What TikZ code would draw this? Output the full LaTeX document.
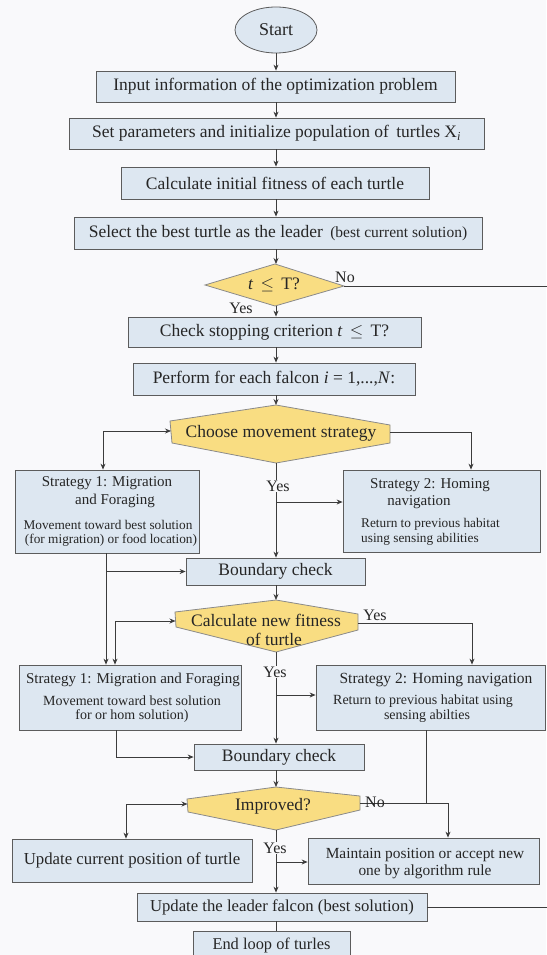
\documentclass[tikz,border=0pt]{standalone}
\usepackage{fontspec}
\setmainfont{Liberation Serif}
\usetikzlibrary{arrows.meta,shapes.geometric}

\definecolor{paper}{HTML}{F9F9FB}
\definecolor{boxfill}{HTML}{DDE7F1}
\definecolor{boxline}{HTML}{5C5C5C}
\definecolor{decfill}{HTML}{F9DD82}
\definecolor{decline}{HTML}{8A8A8A}
\definecolor{inkc}{HTML}{262626}
\definecolor{wire}{HTML}{3C3C3C}

\tikzset{
  box/.style={draw=boxline, fill=boxfill, line width=0.8pt, inner sep=0pt},
  main/.style={font=\fontsize{17.5}{20}\selectfont, text=inkc},
  tA/.style={font=\fontsize{15}{17}\selectfont, text=inkc, inner sep=0pt},
  tB/.style={font=\fontsize{13.3}{15}\selectfont, text=inkc, inner sep=0pt},
  tC/.style={font=\fontsize{14}{16}\selectfont, text=inkc, inner sep=0pt},
  wireline/.style={draw=wire, line width=0.8pt},
  arr/.style={wireline, -{Stealth[length=6pt,width=5pt]}},
  biarr/.style={wireline, {Stealth[length=6pt,width=5pt]}-{Stealth[length=6pt,width=5pt]}},
  dec/.style={fill=decfill, draw=decline, line width=0.8pt},
  lbl/.style={font=\fontsize{16}{18}\selectfont, text=inkc, inner sep=0.5pt},
  masklbl/.style={lbl, fill=paper},
}

\begin{document}
\begin{tikzpicture}[x=1pt,y=-1pt]
\useasboundingbox (0,0) rectangle (546,955);
\fill[paper] (0,0) rectangle (546,955);

% main column axis and branch columns
\coordinate (ax) at (276,0);
\coordinate (xA) at (103,0);
\coordinate (xB) at (471,0);
\coordinate (xC) at (106,0);
\coordinate (xD) at (115,0);
\coordinate (xE) at (472,0);
\coordinate (xF) at (116,0);
\coordinate (xG) at (426,0);
\coordinate (xH) at (126,0);
\coordinate (xI) at (448,0);
\coordinate (redge) at (548,0);

% start and initial steps
\node[box, ellipse, minimum width=82pt, minimum height=46pt,
      font=\fontsize{18}{20}\selectfont, text=inkc] (st) at (276,30) {Start};
\node[box, main, minimum width=359pt, minimum height=31pt] (b1) at (275.5,86.5)
  {Input information of the optimization problem};
\node[box, main, minimum width=415pt, minimum height=31pt] (b2) at (276.5,133.5)
  {Set parameters and initialize population of\, turtles X\textsubscript{\itshape i}};
\node[box, main, minimum width=308pt, minimum height=32pt] (b3) at (275,183)
  {Calculate initial fitness of each turtle};
\node[box, main, minimum width=408pt, minimum height=32pt] (b4) at (278,233)
  {Select the best turtle as the leader\, {\fontsize{15.5}{18}\selectfont(best current solution)}};

% loop test
\coordinate (d1t) at (275,264);
\coordinate (d1r) at (344,286);
\coordinate (d1b) at (275,306);
\coordinate (d1l) at (205,285);
\filldraw[dec] (d1t) -- (d1r) -- (d1b) -- (d1l) -- cycle;
\node[main] (d1) at (274,285) {\textit{t}\, $\leq$\, T?};

\node[box, main, minimum width=293pt, minimum height=30pt] (b5) at (274.5,332)
  {Check stopping criterion \textit{t}\, $\leq$\, T?};
\node[box, main, minimum width=282pt, minimum height=32pt] (b6) at (274,379)
  {Perform for each falcon \textit{i} = 1,...,\textit{N}:};

% choose movement strategy
\coordinate (cht) at (276,405);
\coordinate (chur) at (390,425);
\coordinate (chR) at (390,432);
\coordinate (chlr) at (390,443);
\coordinate (chb) at (276,463);
\coordinate (chll) at (172,443);
\coordinate (chL) at (171,431);
\coordinate (chul) at (170,421);
\filldraw[dec] (cht) -- (chur) -- (chlr) -- (chb) -- (chll) -- (chul) -- cycle;
\node[main] (chtx) at (281,433) {Choose movement strategy};

% first pair of strategies
\node[box, minimum width=184pt, minimum height=83pt] (sA) at (107,511.5) {};
\node[tA] (sAa) at (107,483) {Strategy 1: Migration};
\node[tA] (sAb) at (115,501) {and Foraging};
\node[tB] (sAc) at (108,525) {Movement toward best solution};
\node[tB] (sAd) at (111,540) {(for migration) or food location)};

\node[box, minimum width=197pt, minimum height=82pt] (s2A) at (441.5,511) {};
\node[tA] (s2Aa) at (430,485) {Strategy 2: Homing};
\node[tA] (s2Ab) at (419,502) {navigation};
\node[tB, anchor=west] (s2Ac) at (361,524) {Return to previous habitat};
\node[tB, anchor=west] (s2Ad) at (361,539) {using sensing abilities};

\node[box, main, minimum width=179pt, minimum height=27pt] (bc1) at (275.5,571.5) {Boundary check};

% new fitness
\coordinate (cat) at (276,600);
\coordinate (caur) at (358,614);
\coordinate (caR) at (358,623);
\coordinate (calr) at (358,630);
\coordinate (cab) at (276,652);
\coordinate (call) at (176,627);
\coordinate (caL) at (175.5,621);
\coordinate (caul) at (175,612);
\filldraw[dec] (cat) -- (caur) -- (calr) -- (cab) -- (call) -- (caul) -- cycle;
\node[main, align=center, font=\fontsize{17.5}{19.5}\selectfont] (catx) at (266,630)
  {Calculate new fitness\\\hspace*{16pt}of turtle};

% second pair of strategies
\node[box, minimum width=222pt, minimum height=65pt] (sB) at (130,697.5) {};
\node[tA] (sBa) at (133,680) {Strategy 1: Migration and Foraging};
\node[tC] (sBb) at (132,701) {Movement toward best solution};
\node[tC] (sBc) at (132,716) {for or hom solution)};

\node[box, minimum width=229pt, minimum height=65pt] (s2B) at (430.5,697.5) {};
\node[tA, font=\fontsize{15.5}{17}\selectfont] (s2Ba) at (436,680) {Strategy 2: Homing navigation};
\node[tC] (s2Bb) at (423,701) {Return to previous habitat using};
\node[tC] (s2Bc) at (427,716) {sensing abilties};

\node[box, main, minimum width=170pt, minimum height=26pt] (bc2) at (279,757) {Boundary check};

% improvement test
\coordinate (imt) at (276,787);
\coordinate (imur) at (360,796);
\coordinate (imR) at (360,803);
\coordinate (imlr) at (360,810);
\coordinate (imb) at (276,830);
\coordinate (imll) at (188,812);
\coordinate (imL) at (187.5,804);
\coordinate (imul) at (187,799);
\filldraw[dec] (imt) -- (imur) -- (imlr) -- (imb) -- (imll) -- (imul) -- cycle;
\node[main] (imtx) at (273,806) {Improved?};

\node[box, main, font=\fontsize{16.8}{19}\selectfont, minimum width=240pt, minimum height=43pt] (up) at (132,860.5)
  {Update current position of turtle};
\node[box, minimum width=231pt, minimum height=46pt] (mt) at (423.5,861) {};
\node[align=center, font=\fontsize{15.4}{17}\selectfont, text=inkc, inner sep=0pt] (mttx) at (425,864)
  {Maintain position or accept new\\one by algorithm rule};

\node[box, main, font=\fontsize{16.7}{19}\selectfont, minimum width=290pt, minimum height=28pt] (ul) at (282,907)
  {Update the leader falcon (best solution)};
\node[box, main, font=\fontsize{16.4}{19}\selectfont, minimum width=157pt, minimum height=28pt] (en) at (271.5,945)
  {End loop of turles};

% ---- connectors ----
\draw[arr] (st.south) -- (b1.north -| ax);
\draw[arr] (b1.south -| ax) -- (b2.north -| ax);
\draw[arr] (b2.south -| ax) -- (b3.north -| ax);
\draw[arr] (b3.south -| ax) -- (b4.north -| ax);
\draw[arr] (b4.south -| ax) -- (d1t -| ax);
\draw[arr] (d1b -| ax) -- (b5.north -| ax);
\draw[wireline] (d1r) -- (d1r -| redge);
\node[lbl] (no1) at (345,277) {No};
\node[lbl] (yes1) at (241,308) {Yes};
\draw[arr] (b5.south -| ax) -- (b6.north -| ax);
\draw[arr] (b6.south -| ax) -- (cht);

\draw[biarr] (chL) -| (sA.north -| xA);
\draw[arr] (chR) -| (s2A.north -| xB);
\draw[arr] (chb) -- (bc1.north -| ax);
\coordinate (yb1) at (276,502);
\draw[arr] (yb1) -- (yb1 -| s2A.west);
\node[masklbl] (yes2) at (278,486) {Yes};

\draw[arr] (sA.south -| xC) -- (sB.north -| xC);
\draw[arr] (bc1.west -| xC) -- (bc1.west);
\draw[arr] (bc1.south -| ax) -- (cat);

\draw[biarr] (caL) -| (sB.north -| xD);
\draw[arr] (caR) -| (s2B.north -| xE);
\node[lbl] (yes3) at (375,615) {Yes};
\draw[arr] (cab) -- (bc2.north -| ax);
\coordinate (yb2) at (276,695);
\draw[arr] (yb2) -- (yb2 -| s2B.west);
\node[masklbl] (yes4) at (275,672) {Yes};

\draw[arr] (sB.south -| xF) |- (bc2.west);
\draw[arr] (bc2.south -| ax) -- (imt);

\draw[wireline] (s2B.south -| xG) -- (imR -| xG);
\draw[biarr] (imL) -| (up.north -| xH);
\draw[arr] (imR) -| (mt.north -| xI);
\node[lbl] (no2) at (375,802) {No};
\draw[arr] (imb) -- (ul.north -| ax);
\coordinate (yb3) at (276,862);
\draw[arr] (yb3) -- (yb3 -| mt.west);
\node[masklbl] (yes5) at (275,848) {Yes};

\draw[wireline] (ul.east) -- (ul.east -| redge);
\draw[wireline] (ul.south -| ax) -- (en.north -| ax);
\end{tikzpicture}
\end{document}
